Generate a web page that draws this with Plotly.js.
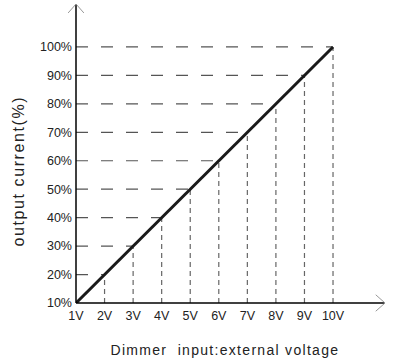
<!DOCTYPE html>
<html><head><meta charset="utf-8">
<script src="https://cdn.plot.ly/plotly-3.0.1.min.js"></script>
<style>html,body{margin:0;padding:0;background:#fff}#c{width:394px;height:361px}
.annotation[data-index="0"] text{letter-spacing:1.3px}
.annotation[data-index="1"] text{letter-spacing:1.6px}</style>
</head><body><div id="c"></div>
<script>
const volts = [1,2,3,4,5,6,7,8,9,10];
const current = [10,20,30,40,50,60,70,80,90,100];
const xTickLabels = ["1V","2V","3V","4V","5V","6V","7V","8V","9V","10V"];
const yTickLabels = ["10%","20%","30%","40%","50%","60%","70%","80%","90%","100%"];
const xTitle = 'Dimmer  input:external voltage';
const yTitle = 'output current(%)';

const traces = [];
for (let i = 0; i < volts.length; i++) {
  if (i > 0) {
    traces.push({x:[volts[0], volts[i]], y:[current[i], current[i]], mode:'lines',
      line:{color:'#555', width:1.2, dash:'12px,13px'}, hoverinfo:'skip', showlegend:false});
    traces.push({x:[volts[i], volts[i]], y:[current[0], current[i]], mode:'lines',
      line:{color:'#666', width:1.2, dash:'5px,4px'}, hoverinfo:'skip', showlegend:false});
  }
}
traces.push({x:volts, y:current, mode:'lines', line:{color:'#1a1a1a', width:3}, showlegend:false});

const font = {family:'Liberation Sans, Arial, sans-serif', color:'#222'};
const layout = {
  width:394, height:361,
  margin:{l:76, r:9, t:4, b:58},
  paper_bgcolor:'#fff', plot_bgcolor:'#fff',
  font: font,
  xaxis:{range:[1,11.82], tickvals:volts, ticktext:xTickLabels, showgrid:false, zeroline:false,
    showline:false, ticks:'', tickfont:{size:12.5, color:'#222'}, ticklabelstandoff:3},
  yaxis:{range:[10,115.1], tickvals:current, ticktext:yTickLabels, showgrid:false, zeroline:false,
    showline:false, ticks:'', tickfont:{size:12.5, color:'#222'}, ticklabelstandoff:3},
  annotations:[
    {text:xTitle, xref:'paper', yref:'paper', x:0.4806, y:0, yshift:-47, xanchor:'center', yanchor:'middle',
      showarrow:false, font:{size:14, color:'#222'}},
    {text:yTitle, xref:'paper', yref:'paper', x:0, xshift:-57, y:0.4415, xanchor:'center', yanchor:'middle',
      textangle:-90, showarrow:false, font:{size:16, color:'#222'}}
  ],
  shapes:[
    {type:'line', xref:'x domain', yref:'y domain', x0:0, x1:1, y0:0, y1:0, line:{color:'#000', width:1.5}},
    {type:'line', xref:'x domain', yref:'y domain', x0:0, x1:0, y0:0, y1:1, line:{color:'#000', width:1.5}},
    {type:'path', xref:'paper', yref:'paper', path:'M 0.97,0.0275 L 1,0 L 0.97,-0.0275', line:{color:'#999', width:1}},
    {type:'path', xref:'paper', yref:'paper', path:'M -0.0255,0.97 L 0,1 L 0.0255,0.97', line:{color:'#999', width:1}}
  ]
};
Plotly.newPlot('c', traces, layout, {staticPlot:true});
</script></body></html>
